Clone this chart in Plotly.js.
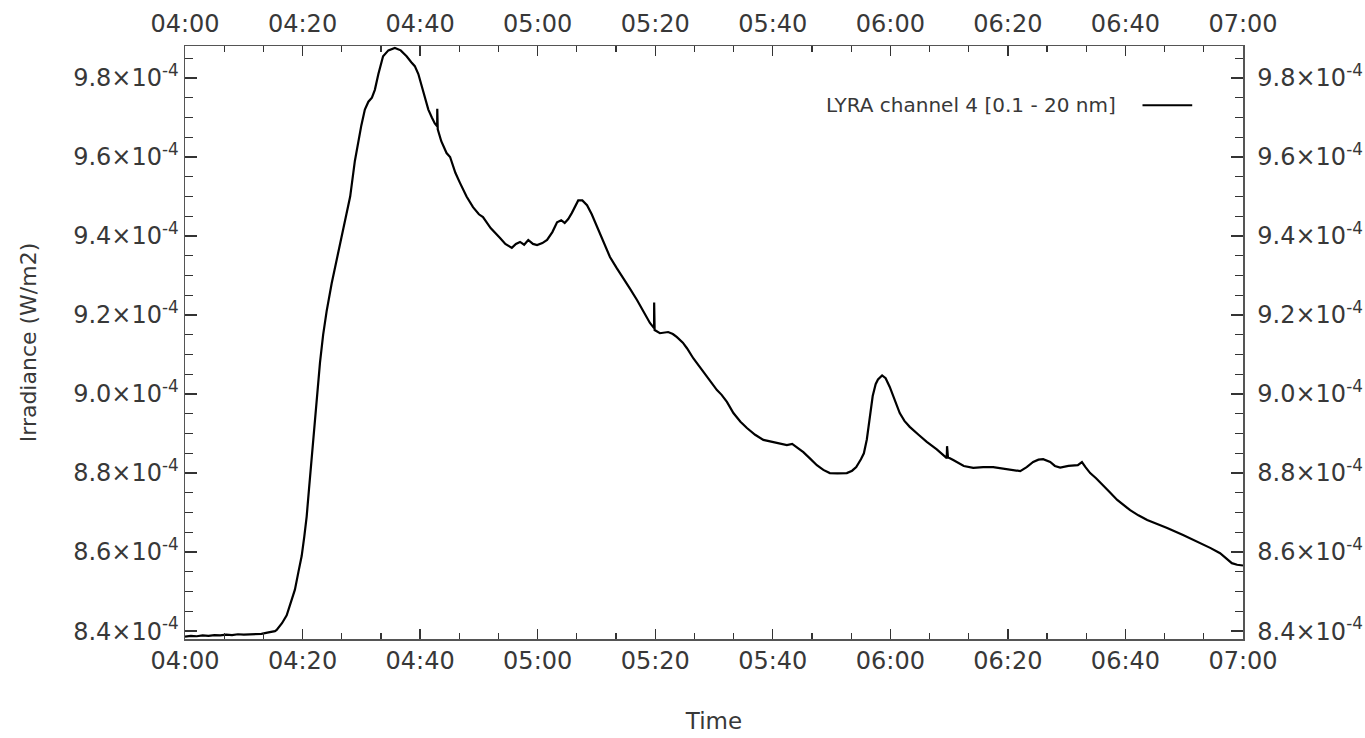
<!DOCTYPE html>
<html>
<head>
<meta charset="utf-8">
<script src="https://cdn.plot.ly/plotly-3.0.1.min.js"></script>
<style>
  html, body { margin: 0; padding: 0; background: #fff; }
  #chart { width: 1365px; height: 738px; }
</style>
</head>
<body>
<div id="chart"></div>
<script>
// Time in minutes after 04:00 UT
const minutes = [
  0, 1, 2, 3, 4, 5, 6, 7, 8, 9, 10, 11, 12, 13, 14, 15.3, 15.6, 16.5, 17.3, 18.0,
  18.7, 19.3, 19.85, 20.3, 20.7, 21.1, 21.55, 22.1, 22.5, 22.97, 23.5, 24.1, 24.95, 25.8, 26.9,
  28.1, 28.9, 29.5, 30.0, 30.6, 31.2, 31.8, 32.3, 32.9, 33.7, 34.6, 35.7, 36.7, 37.7,
  38.5, 39.1, 39.7, 40.3, 40.9, 41.4, 42.0, 42.5, 42.9, 42.92, 43.0, 43.6, 44.5, 45.1,
  46.0, 46.8, 47.9, 49.0, 50.0, 50.7, 52.0, 53.6, 54.5, 55.6, 56.3, 57.0, 57.7, 58.4,
  59.2, 59.9, 60.8, 61.6, 62.5, 63.3, 64.0, 64.6, 65.2, 65.8, 66.4, 66.9, 67.6, 68.4,
  69.2, 70.1, 71.2, 72.3, 73.4, 74.5, 75.7, 76.9, 78.0, 79.1, 79.8, 79.82, 79.9, 80.8,
  81.5, 82.2, 83.0, 83.7, 84.7, 85.4, 86.5, 87.6, 89.0, 90.5, 91.3, 92.2, 93.3, 94.5,
  95.6, 97.0, 98.4, 100.4, 102.4, 103.3, 104.2, 105.2, 106.4, 107.5, 108.6, 109.7, 111.0,
  112.6, 113.5, 114.2, 115.0, 115.5, 116.0, 116.5, 117.0, 117.5, 117.9, 118.6, 119.2,
  119.9, 120.7, 121.6, 122.4, 123.3, 124.8, 126.2, 127.9, 129.6, 129.65, 129.8, 130.7,
  131.5, 132.5, 134.1, 135.8, 137.5, 139.5, 141.0, 142.1, 143.2, 144.3, 145.2, 146.0,
  147.2, 148.0, 148.9, 150.3, 151.9, 152.6, 153.2, 154.0, 155.0, 156.2, 157.3, 158.6,
  160.8, 162.2, 163.7, 165.4, 167.1, 169.8, 172.7, 174.5, 176.1, 177.2, 178.1, 179.0, 180.0
];
// Irradiance in units of 1e-4 W/m2
const irradianceE4 = [
  8.386, 8.388, 8.387, 8.389, 8.388, 8.390, 8.389, 8.391, 8.390, 8.392, 8.391, 8.392, 8.393, 8.393, 8.396, 8.400, 8.403, 8.420, 8.440, 8.470,
  8.505, 8.550, 8.590, 8.640, 8.690, 8.760, 8.840, 8.930, 9.000, 9.080, 9.150, 9.210, 9.280, 9.340, 9.420,
  9.500, 9.590, 9.640, 9.680, 9.720, 9.740, 9.750, 9.770, 9.810, 9.855, 9.870, 9.876, 9.870, 9.855,
  9.840, 9.830, 9.810, 9.780, 9.750, 9.720, 9.700, 9.685, 9.678, 9.722, 9.670, 9.640, 9.610, 9.600,
  9.560, 9.534, 9.500, 9.473, 9.455, 9.448, 9.420, 9.395, 9.380, 9.370, 9.380, 9.385, 9.378, 9.390,
  9.380, 9.377, 9.382, 9.390, 9.410, 9.435, 9.440, 9.433, 9.443, 9.458, 9.475, 9.490, 9.490, 9.478,
  9.455, 9.423, 9.385, 9.347, 9.320, 9.296, 9.267, 9.238, 9.208, 9.180, 9.167, 9.232, 9.162, 9.154,
  9.155, 9.157, 9.152, 9.144, 9.130, 9.116, 9.090, 9.068, 9.040, 9.010, 8.998, 8.980, 8.952, 8.930,
  8.914, 8.897, 8.884, 8.877, 8.871, 8.874, 8.865, 8.853, 8.836, 8.820, 8.808, 8.800, 8.799,
  8.800, 8.806, 8.815, 8.835, 8.850, 8.885, 8.940, 8.995, 9.025, 9.037, 9.047, 9.040,
  9.018, 8.985, 8.952, 8.932, 8.917, 8.897, 8.879, 8.860, 8.838, 8.868, 8.840, 8.833,
  8.826, 8.818, 8.813, 8.815, 8.815, 8.810, 8.808, 8.805, 8.815, 8.828, 8.834, 8.835,
  8.828, 8.818, 8.814, 8.818, 8.820, 8.828, 8.815, 8.800, 8.787, 8.770, 8.752, 8.732,
  8.706, 8.693, 8.681, 8.671, 8.661, 8.643, 8.623, 8.610, 8.597, 8.584, 8.572, 8.568, 8.566
];
const timeTickVals = [0, 20, 40, 60, 80, 100, 120, 140, 160, 180];
const timeTickLabels = ["04:00", "04:20", "04:40", "05:00", "05:20", "05:40", "06:00", "06:20", "06:40", "07:00"];
const yTickVals = [8.4, 8.6, 8.8, 9.0, 9.2, 9.4, 9.6, 9.8];
const yTickLabels = ["8.4", "8.6", "8.8", "9.0", "9.2", "9.4", "9.6", "9.8"];
const seriesName = "LYRA channel 4 [0.1 - 20 nm]";

const xRange = [0, 180];
const yRange = [8.380, 9.881];

const yTickText = yTickLabels.map(s => s + "×10<sup>-4</sup>");
const xMinor = [];
for (let i = 0; i <= 180; i += 20 / 3) xMinor.push(i);
const yMinor = [];
for (let v = 8.40; v <= 9.88; v += 0.05) yMinor.push(+v.toFixed(2));

const FONT = "DejaVu Sans, Liberation Sans, Arial, sans-serif";
const axisCol = "#555";
const textCol = "#383838";

const axBase = {
  showgrid: false, zeroline: false, showline: true, linecolor: axisCol, linewidth: 1.5,
  ticks: "inside", tickcolor: "#333", tickwidth: 1.3,
  tickfont: { family: FONT, size: 24, color: textCol },
  tickmode: "array"
};

const trace = {
  x: minutes, y: irradianceE4, type: "scatter", mode: "lines",
  line: { color: "#000", width: 2.2 }, name: seriesName, showlegend: false,
  xaxis: "x", yaxis: "y"
};
const mirror = {
  x: minutes, y: irradianceE4, type: "scatter", mode: "lines",
  line: { color: "rgba(0,0,0,0)", width: 0 }, showlegend: false, hoverinfo: "skip",
  xaxis: "x2", yaxis: "y2"
};

const layout = {
  width: 1365, height: 738,
  paper_bgcolor: "#fff", plot_bgcolor: "#fff",
  margin: { l: 185, r: 122, t: 46, b: 99 },
  showlegend: false,
  xaxis: Object.assign({}, axBase, {
    range: xRange, tickvals: timeTickVals, ticktext: timeTickLabels, ticklen: 10,
    minor: { tickmode: "array", tickvals: xMinor, ticklen: 6, ticks: "inside", tickcolor: "#333", tickwidth: 1.2 },
    title: { text: "Time", font: { family: FONT, size: 23, color: textCol }, standoff: 38 },
    automargin: false
  }),
  xaxis2: Object.assign({}, axBase, {
    range: xRange, tickvals: timeTickVals, ticktext: timeTickLabels, ticklen: 10,
    minor: { tickmode: "array", tickvals: xMinor, ticklen: 6, ticks: "inside", tickcolor: "#333", tickwidth: 1.2 },
    overlaying: "x", side: "top", anchor: "y", automargin: false, ticklabelstandoff: 3
  }),
  yaxis: Object.assign({}, axBase, {
    range: yRange, tickvals: yTickVals, ticktext: yTickText, ticklen: 12,
    minor: { tickmode: "array", tickvals: yMinor, ticklen: 8, ticks: "inside", tickcolor: "#333", tickwidth: 1.2 },
    title: { text: "Irradiance (W/m2)", font: { family: FONT, size: 22, color: textCol }, standoff: 30 },
    automargin: false
  }),
  yaxis2: Object.assign({}, axBase, {
    range: yRange, tickvals: yTickVals, ticktext: yTickText, ticklen: 12,
    minor: { tickmode: "array", tickvals: yMinor, ticklen: 8, ticks: "inside", tickcolor: "#333", tickwidth: 1.2 },
    overlaying: "y", side: "right", anchor: "x", automargin: false, ticklabelstandoff: 8
  }),
  annotations: [{
    xref: "paper", yref: "paper", x: 0.882, y: 0.9, xanchor: "right", yanchor: "middle",
    text: seriesName, showarrow: false, font: { family: FONT, size: 20, color: textCol }
  }],
  shapes: [{
    type: "line", xref: "paper", yref: "paper", x0: 0.905, x1: 0.952, y0: 0.9, y1: 0.9,
    line: { color: "#000", width: 2 }
  }]
};

Plotly.newPlot("chart", [trace, mirror], layout, { staticPlot: true, displayModeBar: false });
</script>
</body>
</html>
